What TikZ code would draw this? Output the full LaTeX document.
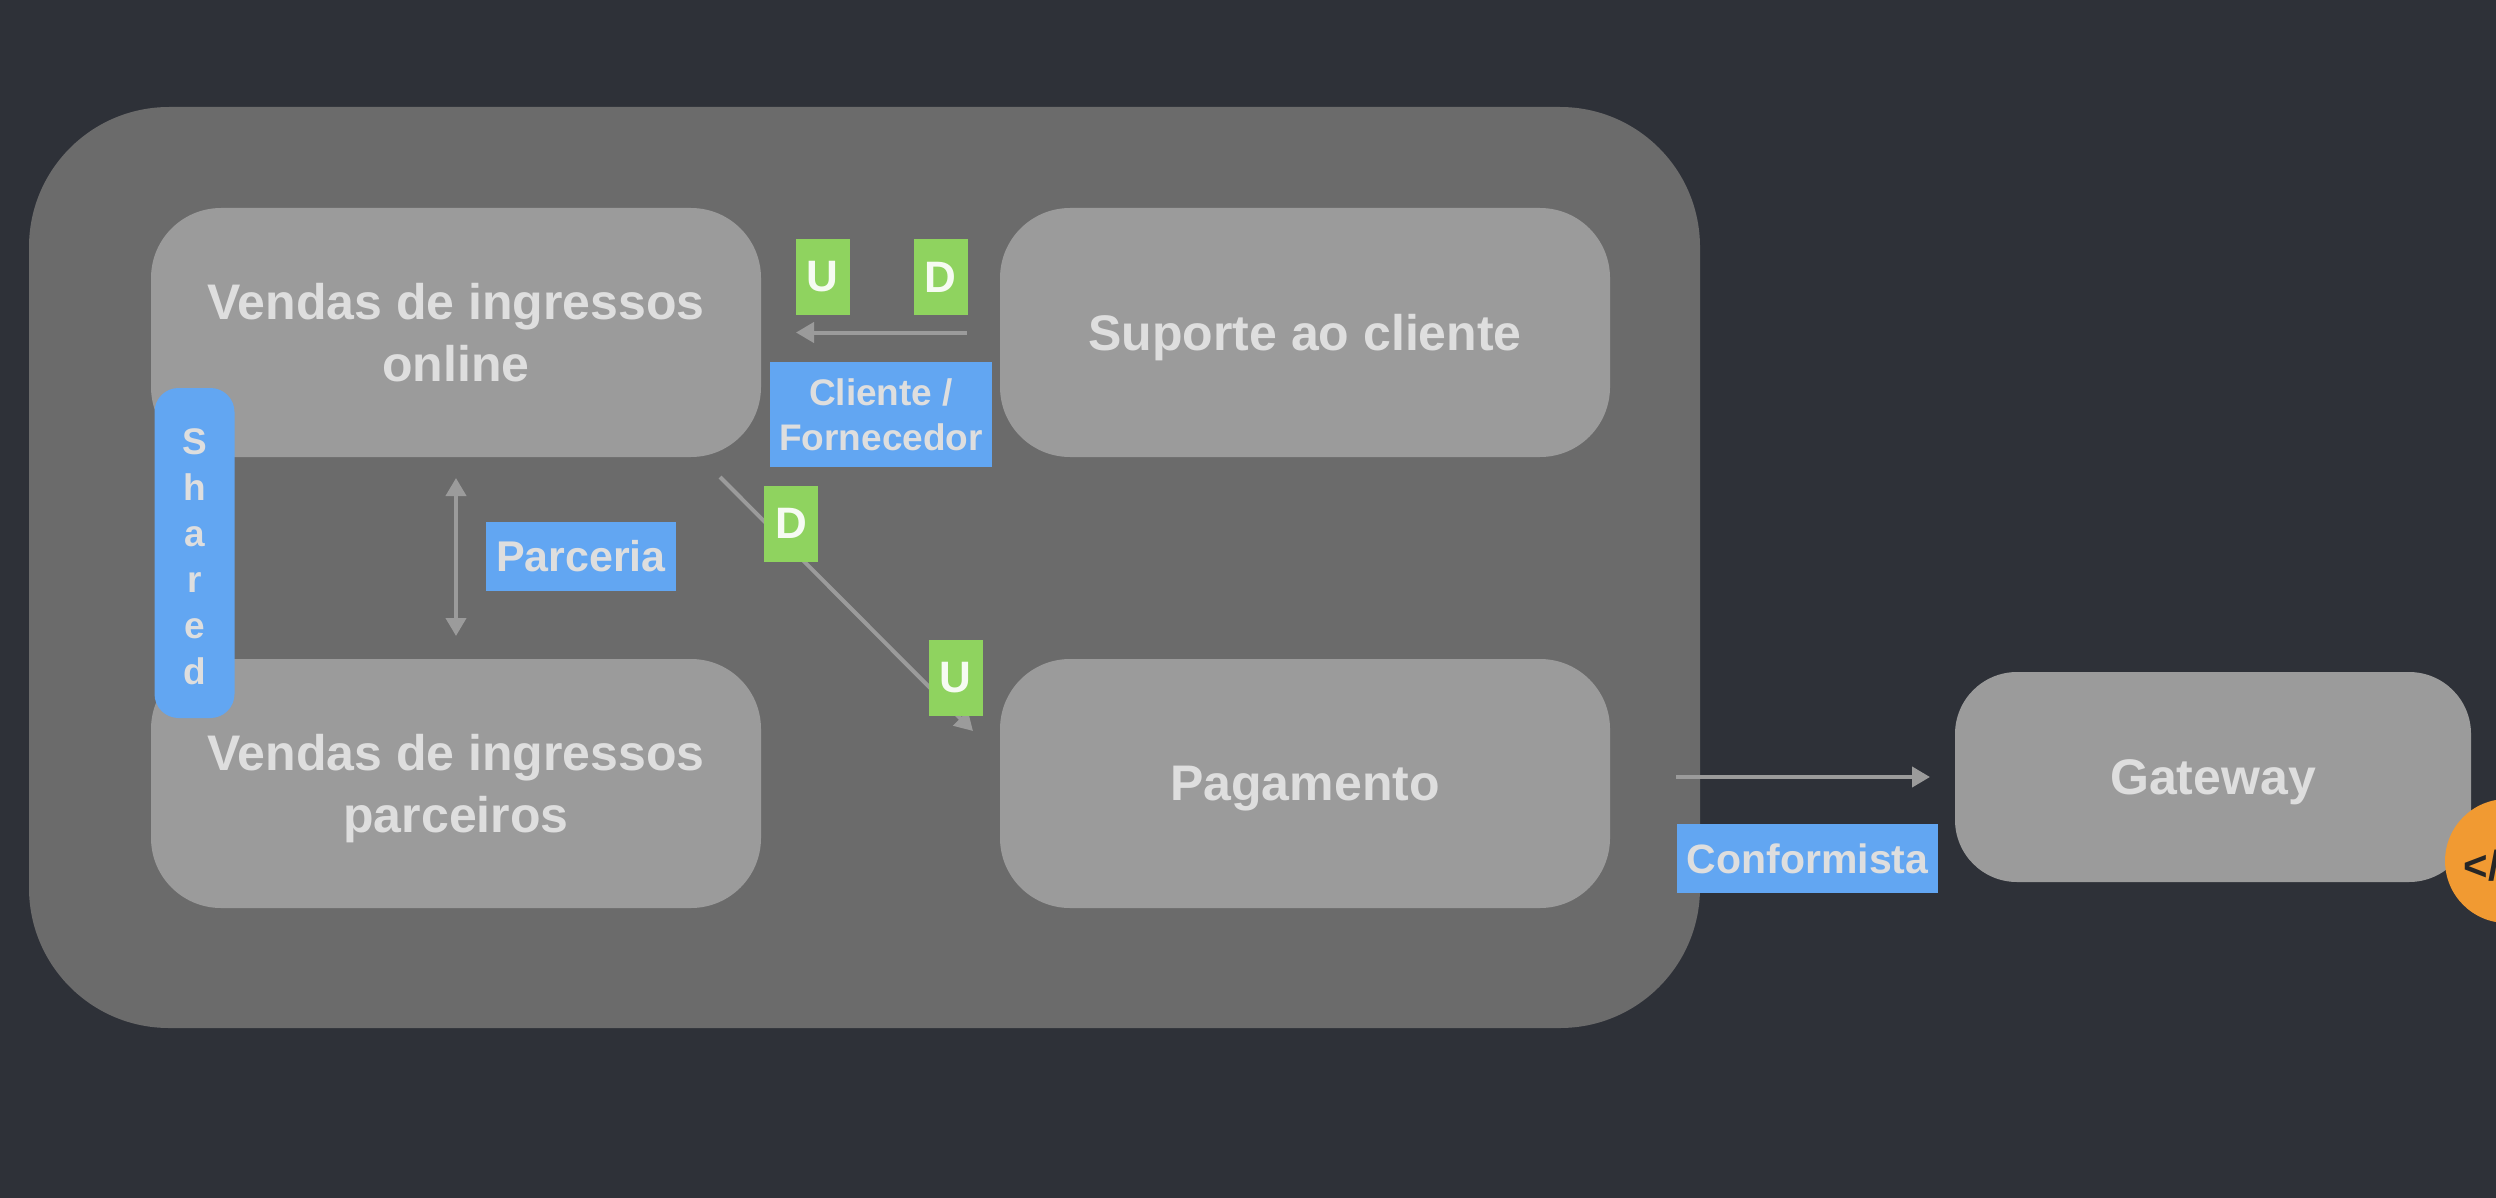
\documentclass[tikz,border=0pt]{standalone}
\usepackage{fontspec}
\setmainfont{Liberation Sans}
\usepackage{tikz}
\usetikzlibrary{positioning,arrows.meta}
\definecolor{slide}{HTML}{2E3138}
\definecolor{context}{HTML}{6B6B6B}
\definecolor{softgray}{HTML}{9B9B9B}
\definecolor{softtext}{HTML}{DEDEDE}
\definecolor{tagblue}{HTML}{62A6F2}
\definecolor{taggreen}{HTML}{8FD35F}
\definecolor{badgeorange}{HTML}{F19A32}

\begin{document}
\begin{tikzpicture}[x=1pt,y=-1pt,
contextbox/.style={rectangle, fill=softgray, outer sep=0pt, minimum width=610pt, minimum height=249pt, rounded corners=70pt, align=center, text=softtext, font=\fontsize{50}{62}\selectfont\bfseries},
tagbox/.style={rectangle, fill=tagblue, outer sep=0pt, inner sep=0pt, align=center, text=softtext, font=\fontsize{37}{45}\selectfont\bfseries},
udbox/.style={rectangle, fill=taggreen, outer sep=0pt, inner sep=0pt, minimum width=54pt, minimum height=76pt, text=white!92!taggreen, font=\fontsize{44}{50}\selectfont\bfseries},
flow/.style={draw=softgray, line width=4pt, -{Triangle[length=18pt,width=20pt]}}
]
\useasboundingbox (0,0) rectangle (2496,1198);
\clip (0,0) rectangle (2496,1198);
\fill[slide] (0,0) rectangle (2496,1198);

\node[rectangle, fill=context, minimum width=1671pt, minimum height=921pt, rounded corners=140pt] (core) at (864.5,567.5) {};

\node[contextbox] (online) at (456,332.5) {Vendas de ingressos\\online};
\node[contextbox, text depth=0pt] (suporte) [right=239pt of online] {Suporte ao cliente};
\node[contextbox] (parceiros) [below=202pt of online] {\rule{0pt}{47pt}Vendas de ingressos\\parceiros};
\node[contextbox, text depth=0pt] (pagamento) [right=239pt of parceiros] {Pagamento};
\node[contextbox, text depth=0pt, minimum width=516pt, minimum height=210pt, rounded corners=62pt] (gateway) at (2213,777) {Gateway};

\coordinate (diagstart) at (720,477);
\coordinate (diagend) at (973,731);
\coordinate (confstart) at (1676,777);

\draw[flow, shorten <=33pt, shorten >=35pt] (suporte) -- (online);
\draw[flow, {Triangle[length=18pt,width=20pt]}-{Triangle[length=18pt,width=20pt]}, shorten <=21pt, shorten >=23pt] (online) -- (parceiros);
\draw[flow] (diagstart) -- (diagend);
\draw[flow, shorten >=25pt] (confstart) -- (gateway);

\node[udbox] (u1) at (822.5,277) {U};
\node[udbox] (d1) [right=64pt of u1] {D};
\node[udbox] (d2) at (791,523.5) {D};
\node[udbox] (u2) at (955.5,677.5) {U};

\node[tagbox, minimum width=222pt, minimum height=105pt] (cliente) at (881,414.5) {Cliente /\\Fornecedor};
\node[tagbox, minimum width=190pt, minimum height=69pt, font=\fontsize{43}{45}\selectfont\bfseries] (parceria) at (581,556.5) {Parceria};
\node[tagbox, minimum width=261pt, minimum height=69pt, font=\fontsize{41}{45}\selectfont\bfseries] (conformista) at (1807.5,858.5) {Conformista};
\node[tagbox, minimum width=80pt, minimum height=330pt, rounded corners=24pt, font=\fontsize{37}{46}\selectfont\bfseries] (shared) at (194.5,553) {\rule{0pt}{33pt}S\\h\\a\\r\\e\\d};

\node[circle, fill=badgeorange, minimum size=124pt, inner sep=0pt] (badge) at (2507,861) {};
\node[inner sep=0pt, text=black!85, font=\fontsize{42}{46}\selectfont\bfseries] (badgetext) at (2494,866) {</>};
\end{tikzpicture}
\end{document}
